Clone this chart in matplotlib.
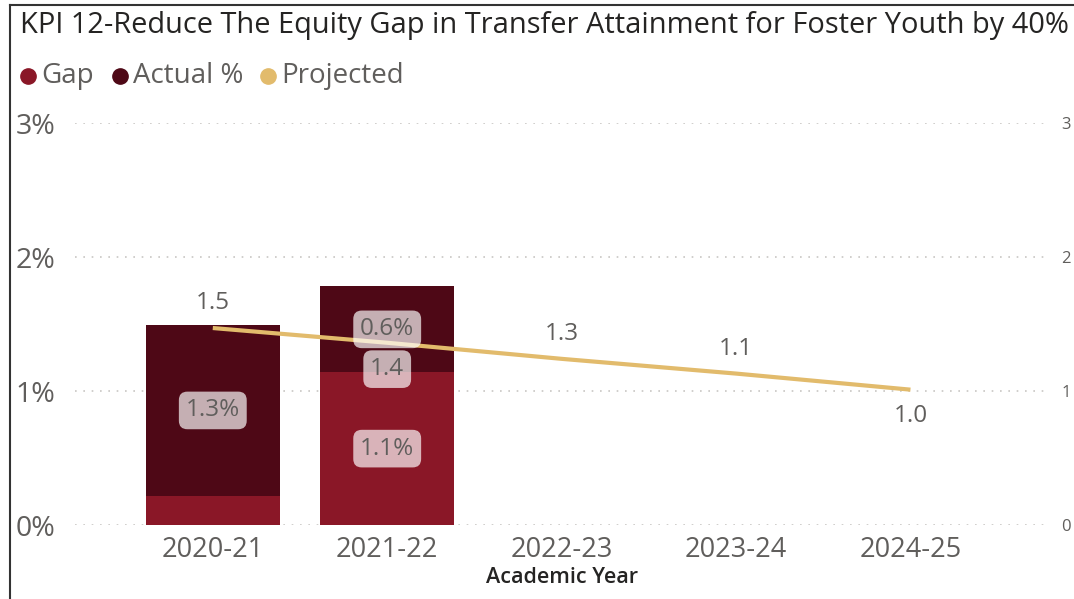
import matplotlib.pyplot as plt
from matplotlib.lines import Line2D
import numpy as np

# Datos
years = ['2020-21', '2021-22', '2022-23', '2023-24', '2024-25']
gap = [0.22, 1.14, np.nan, np.nan, np.nan]
actual = [1.27, 0.64, np.nan, np.nan, np.nan]
projected = [1.47, 1.36, 1.24, 1.13, 1.01]
proj_labels = ['1.5', '1.4', '1.3', '1.1', '1.0']
proj_above = [True, False, True, True, False]
legend_names = ['Gap', 'Actual %', 'Projected']
yticks = [0, 1, 2, 3]

c_gap = '#8A1727'
c_act = '#4E0816'
c_proj = '#E2BB6C'
c_text = '#605E5C'
font = 'Open Sans'

fig = plt.figure(figsize=(10.74, 5.99), dpi=100)
W, H = 1074, 599
ax = fig.add_axes([75 / W, (H - 525) / H, (1050 - 75) / W, (525 - 123) / H])

x = np.arange(len(years))
ax.bar(x, gap, width=0.77, color=c_gap, zorder=2)
ax.bar(x, actual, width=0.77, bottom=gap, color=c_act, zorder=2)
ax.plot(x, projected, color=c_proj, lw=3, zorder=3, solid_capstyle='butt')

box = dict(boxstyle='round,pad=0.28,rounding_size=0.35', fc='white', ec='none', alpha=0.68)

# Etiquetas de las barras
for i in range(len(years)):
    if np.isnan(gap[i]):
        continue
    if gap[i] >= 0.5:
        ax.text(x[i], gap[i] / 2, f'{gap[i]:.1f}%', ha='center', va='center',
                fontsize=17.5, color=c_text, family=font, bbox=box, zorder=4)
    ax.text(x[i], gap[i] + actual[i] / 2, f'{actual[i]:.1f}%', ha='center', va='center',
            fontsize=17.5, color=c_text, family=font, bbox=box, zorder=4)

# Etiquetas de la línea proyectada
for i, (v, lab) in enumerate(zip(projected, proj_labels)):
    top = gap[i] + actual[i] if not np.isnan(gap[i]) else 0
    inside = top > v
    off = 18 if proj_above[i] else -19
    ax.annotate(lab, (x[i], v), xytext=(0, off), textcoords='offset points',
                ha='center', va='center', fontsize=17.5, color=c_text, family=font,
                bbox=box if inside else None, zorder=5)

ax.set_xlim(-0.79, 4.8)
ax.set_ylim(0, 3)
ax.set_yticks(yticks)
ax.set_yticklabels([f'{t}%' for t in yticks], fontsize=20.5, color=c_text, family=font)
ax.set_xticks(x)
ax.set_xticklabels(years, fontsize=19.5, color=c_text, family=font)
ax.tick_params(length=0, pad=14)
ax.tick_params(axis='x', pad=8)
ax.yaxis.grid(True, linestyle=(0, (1, 4)), color='#C8C6C4', lw=1.2)
ax.set_axisbelow(True)
for s in ax.spines.values():
    s.set_visible(False)
ax.set_xlabel('Academic Year', fontsize=15.5, color='#252423', family=font,
              fontweight='semibold', labelpad=2)

ax2 = ax.twinx()
ax2.set_ylim(0, 3)
ax2.set_yticks(yticks)
ax2.set_yticklabels([str(t) for t in yticks], fontsize=12, color=c_text, family=font)
ax2.tick_params(length=0, pad=8)
for s in ax2.spines.values():
    s.set_visible(False)

# Título
fig.text(20 / W, 1 - 26 / H, 'KPI 12-Reduce The Equity Gap in Transfer Attainment for Foster Youth by 40%',
         fontsize=20.9, color='#252423', family=font, va='center', ha='left')

# Leyenda
lx = [28, 120, 268]
colors = [c_gap, c_act, c_proj]
for px, name, col in zip(lx, legend_names, colors):
    fig.add_artist(Line2D([px / W], [1 - 76 / H], marker='o', ms=11, color=col, lw=0,
                          transform=fig.transFigure))
    fig.text((px + 13) / W, 1 - 76 / H, name, fontsize=20, color=c_text, family=font,
             va='center', ha='left')

# Marco
fig.add_artist(Line2D([10 / W, 10 / W], [0, 1 - 5 / H], color='#333333', lw=1.5, transform=fig.transFigure))
fig.add_artist(Line2D([10 / W, 1], [1 - 5 / H, 1 - 5 / H], color='#333333', lw=1.5, transform=fig.transFigure))

fig.savefig('out.png', dpi=100)
